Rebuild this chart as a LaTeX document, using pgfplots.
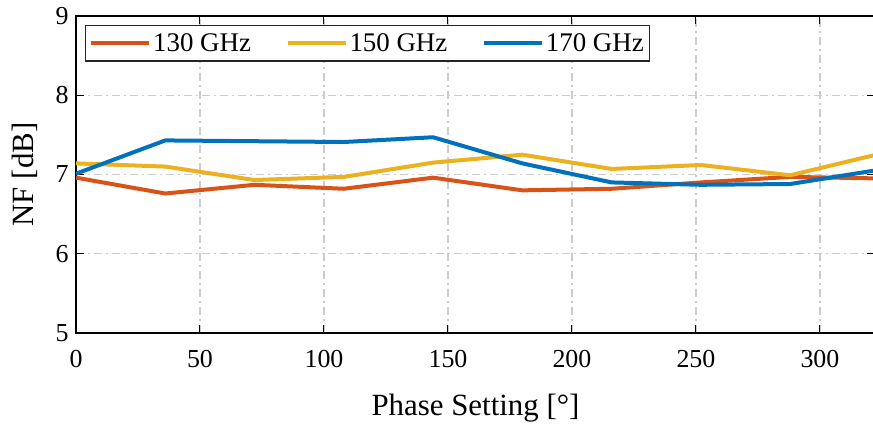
\documentclass[border=0pt]{standalone}
\usepackage{fontspec}
\setmainfont{Liberation Serif}
\usepackage{pgfplots}
\pgfplotsset{compat=1.18}

\definecolor{c130}{rgb}{0.850,0.325,0.098}
\definecolor{c150}{rgb}{0.929,0.694,0.125}
\definecolor{c170}{rgb}{0.000,0.447,0.741}

\begin{document}
\begin{tikzpicture}
\begin{axis}[
  name=ax,
  scale only axis,
  width=799bp, height=317bp,
  xmin=0, xmax=322.2, ymin=5, ymax=9,
  xtick={0,50,...,300}, ytick={5,6,7,8,9},
  tick align=inside,
  major tick length=8bp,
  axis line style={black, line width=1.3bp},
  tick style={black, line width=1bp},
  grid=major,
  major grid style={black!20, line width=1.3bp, dash pattern=on 8bp off 4bp on 2bp off 4bp},
  /pgf/number format/assume math mode=true,
  ticklabel style={font=\fontsize{26}{30}\selectfont},
  xticklabel style={yshift=-14bp},
  yticklabel style={xshift=-4bp},
  label style={font=\fontsize{31}{36}\selectfont},
  xlabel={Phase Setting [°]},
  ylabel={NF [dB]},
  xlabel style={at={(axis description cs:0.5,-0.259)}, anchor=base},
  ylabel style={at={(axis description cs:-0.0526,0.5)}, anchor=base},
  legend columns=3,
  legend style={at={(0.0113,0.972)}, anchor=north west, draw=black!85, line width=1.3bp,
    font=\fontsize{27}{31}\selectfont, inner xsep=4bp, inner ysep=6bp,
    /tikz/every even column/.append style={column sep=33bp}},
  legend image code/.code={\draw[#1, line width=3.5bp] (0bp,0bp) -- (58bp,0bp);},
  every axis plot/.append style={line width=4bp, line join=round},
  clip=true,
]
\addplot[c130] coordinates {(0,6.96) (36,6.76) (72,6.87) (108,6.82) (144,6.96) (180,6.80) (216,6.82) (252,6.90) (288,6.97) (324,6.95)};
\addlegendentry{130 GHz}
\addplot[c150] coordinates {(0,7.14) (36,7.10) (72,6.93) (108,6.97) (144,7.15) (180,7.25) (216,7.07) (252,7.12) (288,6.99) (324,7.26)};
\addlegendentry{150 GHz}
\addplot[c170] coordinates {(0,7.01) (36,7.43) (72,7.42) (108,7.41) (144,7.47) (180,7.14) (216,6.90) (252,6.87) (288,6.88) (324,7.06)};
\addlegendentry{170 GHz}
\end{axis}
\pgfresetboundingbox
\path[use as bounding box] ([xshift=-76bp,yshift=-94bp]ax.south west) rectangle ([xshift=-2bp,yshift=16bp]ax.north east);
\end{tikzpicture}
\end{document}
